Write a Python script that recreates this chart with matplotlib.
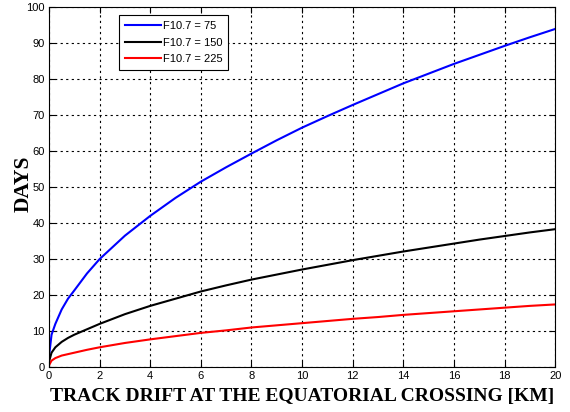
import matplotlib
matplotlib.use("Agg")
import matplotlib.pyplot as plt

# Track drift at the equatorial crossing [km]
drift_km = [0, 0.1, 0.25, 0.5, 0.75, 1, 1.5, 2, 3, 4, 5, 6, 7, 8, 9, 10,
            11, 12, 13, 14, 15, 16, 17, 18, 19, 20]

# Days for each solar flux level
days_f75 = [3, 9, 12, 16, 19, 21.3, 26, 30, 36.5, 42, 47, 51.5, 55.5, 59.3,
            63, 66.5, 69.7, 72.8, 75.8, 78.8, 81.5, 84.2, 86.7, 89.2, 91.6, 93.9]
days_f150 = [1.5, 4, 5.5, 7, 8.1, 9, 10.5, 12, 14.7, 17, 19, 21, 22.7, 24.3,
             25.7, 27.1, 28.4, 29.7, 30.9, 32.1, 33.2, 34.3, 35.4, 36.4, 37.4, 38.3]
days_f225 = [0.5, 1.8, 2.5, 3.2, 3.6, 4, 4.8, 5.5, 6.7, 7.7, 8.6, 9.5, 10.2, 11,
             11.6, 12.2, 12.8, 13.4, 13.9, 14.5, 15, 15.5, 16, 16.5, 17, 17.4]

series = [("F10.7 = 75", days_f75, "#0000ff"),
          ("F10.7 = 150", days_f150, "#000000"),
          ("F10.7 = 225", days_f225, "#ff0000")]

x_ticks = list(range(0, 21, 2))
y_ticks = list(range(0, 101, 10))

fig = plt.figure(figsize=(5.7, 4.12), dpi=100)
ax = fig.add_axes([0.086, 0.109, 0.888, 0.874])

for label, vals, color in series:
    ax.plot(drift_km, vals, color=color, lw=1.5, label=label)

ax.set_xlim(0, 20)
ax.set_ylim(0, 100)
ax.set_xticks(x_ticks)
ax.set_yticks(y_ticks)
ax.grid(True, color="black", linestyle=(0, (2, 3)), linewidth=0.8)
ax.tick_params(direction="in", top=True, right=True, labelsize=8, length=4,
               pad=3)
for lab in ax.get_xticklabels() + ax.get_yticklabels():
    lab.set_family("Liberation Sans")
for s in ax.spines.values():
    s.set_linewidth(0.8)

ax.set_xlabel("TRACK DRIFT AT THE EQUATORIAL CROSSING [KM]",
              family="Liberation Serif", fontweight="bold", fontsize=14,
              labelpad=5)
ax.set_ylabel("DAYS", family="Liberation Serif", fontweight="bold",
              fontsize=15.5, labelpad=-5)
ax.yaxis.label.set_y(0.51)

leg = ax.legend(loc="upper left", bbox_to_anchor=(0.138, 0.978),
                borderaxespad=0,
                prop={"family": "Liberation Sans", "size": 8},
                fancybox=False, edgecolor="black", framealpha=1,
                handlelength=3.2, handletextpad=0.2, borderpad=0.55,
                labelspacing=0.6)
leg.get_frame().set_linewidth(0.8)

fig.savefig("out.png", dpi=100)
